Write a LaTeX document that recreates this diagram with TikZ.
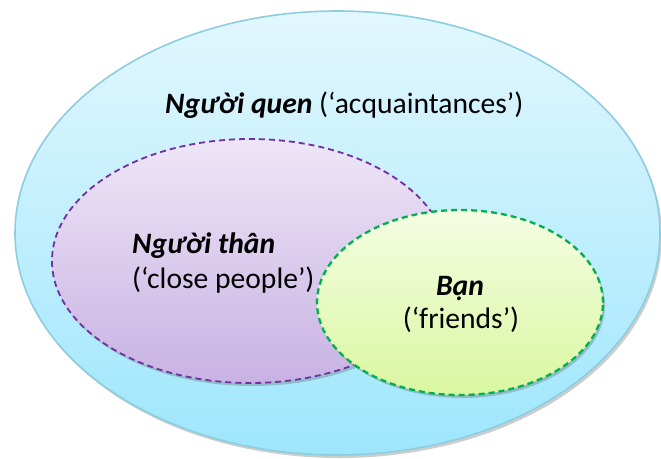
\documentclass[tikz,border=0pt]{standalone}
\usepackage{fontspec}
\setmainfont{Carlito}
\usetikzlibrary{shapes.geometric,shadows}
\definecolor{outerTop}{HTML}{E2F7FE}
\definecolor{outerBot}{HTML}{9EE6FC}
\definecolor{outerLine}{HTML}{8CCDE0}
\definecolor{purTop}{HTML}{EEE6F7}
\definecolor{purBot}{HTML}{C8B2E3}
\definecolor{purLine}{HTML}{7030A0}
\definecolor{grnTop}{HTML}{F5FDE3}
\definecolor{grnBot}{HTML}{D9F7A0}
\definecolor{grnLine}{HTML}{00B050}
\tikzset{
  setshape/.style={ellipse, inner sep=0pt, outer sep=0pt},
  myshadow/.style={drop shadow={shadow xshift=2pt, shadow yshift=-3pt, opacity=0.28, fill=black!70}},
  outerset/.style={setshape, myshadow, top color=outerTop, bottom color=outerBot, draw=outerLine, line width=1.6pt},
  purset/.style={setshape, myshadow, top color=purTop, bottom color=purBot, draw=purLine, line width=1.8pt, dash pattern=on 6pt off 4pt},
  grnset/.style={setshape, myshadow, top color=grnTop, bottom color=grnBot, draw=grnLine, line width=2.3pt, dash pattern=on 6pt off 4pt},
  lbl/.style={inner sep=0pt, font=\fontsize{29.6}{35}\selectfont},
}
\begin{document}
\begin{tikzpicture}[x=1pt, y=-1pt]
\useasboundingbox (0,0) rectangle (661,458);
\node[outerset, minimum width=645pt, minimum height=444pt] (acq) at (337.5,233) {};
\node[purset, minimum width=396pt, minimum height=244pt] (close) at (250,261) {};
\node[grnset, minimum width=286pt, minimum height=185pt] (fr) at (460,302.5) {};
\node[lbl, anchor=base west] (t1) at (165,113) {\textbf{\textit{Người quen}} (‘acquaintances’)};
\node[lbl, anchor=base west] (t2) at (132,253) {\textbf{\textit{Người thân}}};
\node[lbl, anchor=base west] (t3) at (132,288) {(‘close people’)};
\node[lbl, anchor=base] (t4) at (460,295) {\textbf{\textit{Bạn}}};
\node[lbl, anchor=base] (t5) at (461,328) {(‘friends’)};
\end{tikzpicture}
\end{document}
